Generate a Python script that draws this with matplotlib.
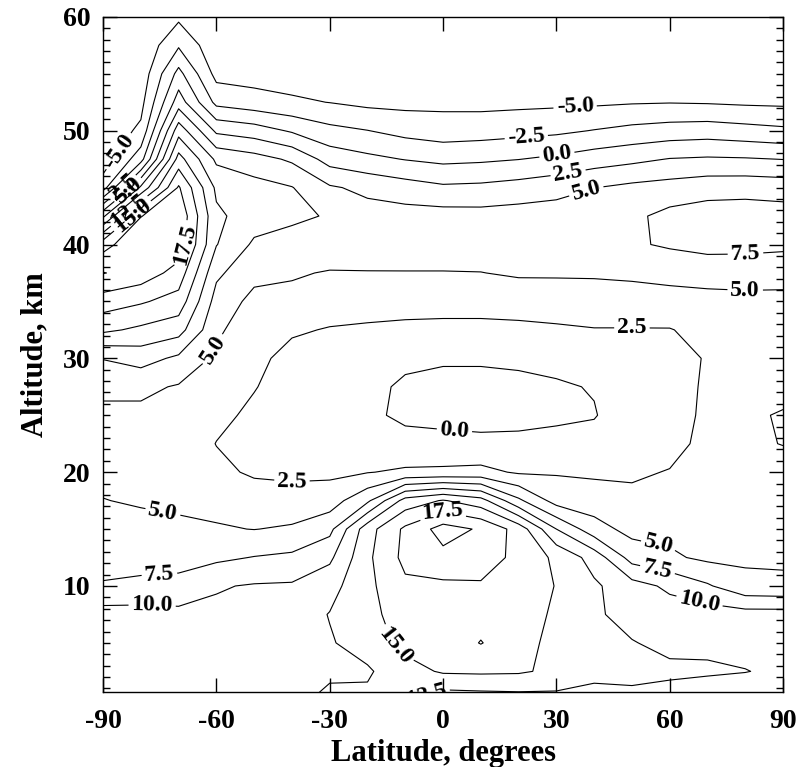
import matplotlib
matplotlib.use("Agg")
import matplotlib.pyplot as plt
from matplotlib.ticker import MultipleLocator
import numpy as np

plt.rcParams['font.family'] = ['Liberation Serif', 'DejaVu Serif']
plt.rcParams['font.weight'] = 'bold'
plt.rcParams['axes.unicode_minus'] = False
plt.rcParams['contour.negative_linestyle'] = 'solid'

# grid: latitude columns, altitude rows (km, bottom to top)
lat = [-90, -80, -70, -60, -50, -40, -30, -20, -10, 0, 10, 20, 30, 40, 50, 60, 70, 80, 90]
alt = [0, 2.5, 5, 7.5, 10, 12.5, 15, 17.5, 20, 22.5, 25, 27.5, 30,
       32.5, 35, 37.5, 40, 42.5, 45, 47.5, 50, 52.5, 55, 57.5, 60]

# one profile per latitude, values from alt[0] up to alt[-1]
col_s90 = [11.5, 11.4, 11.3, 11.0, 7.8, 6.2, 5.6, 5.05, 4.5, 4.4, 4.6, 5.4, 7.6,
           13.0, 16.3, 20.1, 16.5, 7.0, -3.6, -6.5, -6.8, -7.0, -7.1, -7.2, -7.3]
col_s80 = [11.2, 11.1, 10.9, 10.9, 8.2, 6.3, 5.6, 4.8, 4.4, 4.3, 4.5, 5.5, 8.5,
           12.0, 15.3, 19.0, 19.8, 17.4, 8.0, -1.0, -4.5, -5.8, -6.6, -7.0, -7.3]
col_s70 = [11.2, 11.0, 10.8, 10.6, 8.5, 6.3, 5.4, 4.6, 4.0, 3.9, 4.2, 4.8, 7.0,
           11.0, 14.0, 16.5, 19.0, 19.6, 17.8, 13.5, 9.0, 3.8, 0.8, -2.8, -5.5]
col_s60 = [11.0, 10.9, 10.7, 10.5, 9.8, 7.0, 5.2, 4.3, 3.0, 2.45, 3.0, 3.8, 4.5,
           5.5, 6.5, 8.0, 10.1, 10.5, 9.5, 7.0, 2.0, -3.2, -5.8, -6.8, -7.2]
col_s50 = [11.4, 11.2, 11.0, 10.8, 10.2, 7.6, 4.95, 3.6, 2.2, 1.8, 2.1, 2.6, 2.9,
           3.3, 4.3, 5.7, 7.1, 8.7, 8.4, 6.0, 1.2, -4.0, -6.0, -6.8, -7.2]
col_s40 = [11.8, 11.6, 11.5, 11.2, 10.3, 8.0, 5.3, 3.5, 2.0, 1.5, 1.4, 1.6, 2.0,
           2.7, 4.2, 5.3, 6.5, 8.0, 7.6, 4.6, -0.3, -4.6, -6.2, -6.8, -7.2]
col_s30 = [13.2, 12.0, 12.3, 12.6, 11.6, 9.5, 6.8, 3.8, 2.0, 1.1, 0.8, 1.0, 1.5,
           2.4, 3.3, 4.8, 6.8, 7.3, 5.3, 1.5, -1.8, -5.05, -6.0, -6.6, -7.0]
col_s20 = [13.0, 12.2, 13.5, 14.2, 14.4, 14.5, 14.0, 7.0, 2.4, 0.8, 0.3, 0.5, 1.0,
           2.2, 3.4, 4.9, 6.2, 6.0, 4.4, 0.6, -2.45, -5.6, -6.1, -6.6, -7.0]
col_s10 = [12.8, 14.0, 15.8, 16.3, 17.0, 18.2, 18.0, 13.5, 2.9, 0.5, -0.3, -0.3, 0.4,
           2.0, 3.4, 4.9, 6.3, 6.0, 3.6, -0.1, -3.3, -5.7, -6.2, -6.7, -7.0]
col_eq = [11.0, 15.3, 16.0, 16.3, 17.0, 19.3, 21.0, 15.2, 3.0, 0.5, -0.5, -0.5, 0.2,
          1.9, 3.4, 4.9, 6.3, 6.0, 2.9, -0.6, -3.8, -5.6, -6.2, -6.7, -7.0]
col_n10 = [11.2, 15.4, 17.6, 16.6, 17.2, 18.8, 19.7, 13.5, 3.2, 0.4, -0.6, -0.5, 0.2,
           1.9, 3.4, 4.95, 6.3, 5.9, 3.05, -0.4, -3.6, -5.7, -6.2, -6.7, -7.0]
col_n20 = [11.4, 15.3, 16.0, 16.2, 16.5, 16.8, 16.5, 8.0, 2.2, 0.4, -0.5, -0.4, 0.3,
           2.0, 3.5, 5.3, 6.5, 6.1, 3.5, -0.05, -3.3, -5.6, -6.1, -6.6, -7.0]
col_n30 = [11.6, 14.5, 14.2, 14.6, 14.9, 14.5, 10.0, 4.0, 2.3, 0.5, -0.3, -0.2, 0.5,
           2.2, 3.6, 5.3, 6.6, 6.2, 4.1, 0.5, -3.0, -5.5, -6.0, -6.5, -7.0]
col_n40 = [11.8, 13.0, 12.6, 12.8, 12.9, 11.5, 6.0, 3.7, 2.1, 0.6, -0.1, 0.1, 1.0,
           2.4, 3.8, 5.3, 6.8, 6.5, 4.95, 1.3, -2.4, -5.4, -5.9, -6.4, -7.0]
col_n50 = [11.8, 13.2, 12.6, 11.8, 11.0, 6.5, 4.2, 3.0, 2.2, 1.3, 1.0, 1.2, 1.8,
           2.4, 3.8, 5.5, 7.2, 7.0, 5.6, 1.9, -1.8, -5.2, -5.8, -6.3, -7.0]
col_n60 = [11.6, 12.9, 12.0, 11.2, 9.5, 5.4, 4.3, 3.5, 2.6, 1.8, 1.4, 1.6, 2.0,
           2.4, 4.0, 5.8, 7.8, 8.2, 6.0, 2.6, -1.4, -5.1, -5.8, -6.3, -7.0]
col_n70 = [11.5, 12.7, 12.2, 11.3, 7.8, 4.5, 4.4, 3.8, 3.3, 3.1, 3.0, 2.8, 2.6,
           3.2, 4.2, 6.0, 8.3, 8.7, 6.5, 2.8, -1.2, -5.2, -5.8, -6.3, -7.0]
col_n80 = [11.3, 12.55, 12.0, 11.0, 5.7, 4.6, 4.4, 3.9, 3.3, 2.8, 2.7, 3.0, 3.3,
           3.6, 4.3, 6.1, 8.2, 8.8, 6.6, 2.7, -1.6, -5.4, -5.7, -6.3, -7.0]
col_n90 = [11.3, 12.2, 11.8, 11.0, 5.5, 4.6, 4.3, 3.8, 3.2, 2.45, 2.4, 2.9, 3.3,
           3.7, 4.3, 6.0, 8.0, 8.6, 6.4, 2.45, -2.0, -5.5, -5.9, -6.4, -7.0]

levels = [-5.0, -2.5, 0.0, 2.5, 5.0, 7.5, 10.0, 12.5, 15.0, 17.5, 20.0]

field = np.column_stack([col_s90, col_s80, col_s70, col_s60, col_s50, col_s40,
                         col_s30, col_s20, col_s10, col_eq, col_n10, col_n20,
                         col_n30, col_n40, col_n50, col_n60, col_n70, col_n80,
                         col_n90])

# where the labels sit (lat, km), per level
label_spots = {
    -5.0: [(35, 51.8), (-85, 48)],
    -2.5: [(22, 49.6)],
    0.0: [(30, 48.2), (3, 23.6)],
    2.5: [(33, 46.5), (50, 32.6), (-40, 18.8), (-83, 44.4)],
    5.0: [(38, 44.6), (80, 36.1), (-74, 16.8), (-61, 30.8), (57, 13.6), (-81, 43.8)],
    7.5: [(80, 39.5), (-75, 10.6), (57, 11.8)],
    10.0: [(-77, 8.4), (68, 8.8)],
    12.5: [(-5, 1.2), (-82, 42.5)],
    15.0: [(-12, 5.0), (-80, 41.6)],
    17.5: [(0, 16.4), (-67, 40.0)],
}

fig = plt.figure(figsize=(7.99, 7.67), dpi=100)
ax = fig.add_axes([0.129, 0.098, 0.851, 0.88])

# one contour set per level so each label lands on its own level
for lev in levels:
    cs = ax.contour(lat, alt, field, levels=[lev], colors='black', linewidths=0.8)
    spots = label_spots.get(lev)
    if spots:
        txts = ax.clabel(cs, manual=spots, inline=True, fmt='%.1f',
                         fontsize=17, inline_spacing=3)
        for t in txts:
            t.set_fontweight('bold')

ax.set_xlim(-90, 90)
ax.set_ylim(0.7, 60)
ax.set_xticks([-90, -60, -30, 0, 30, 60, 90])
ax.set_yticks([10, 20, 30, 40, 50, 60])
ax.yaxis.set_minor_locator(MultipleLocator(1))

ax.tick_params(axis='both', which='major', direction='in', top=True, right=True,
               length=10, width=1, labelsize=20)
ax.tick_params(axis='x', pad=12)
ax.tick_params(axis='y', pad=9)
ax.tick_params(axis='y', which='minor', direction='in', right=True, length=5, width=1)
for lbl in ax.get_xticklabels() + ax.get_yticklabels():
    lbl.set_fontweight('bold')
for sp in ax.spines.values():
    sp.set_linewidth(1)

ax.set_xlabel('Latitude, degrees', fontsize=22, fontweight='bold', labelpad=4)
ax.set_ylabel('Altitude, km', fontsize=22, fontweight='bold', labelpad=10)

fig.savefig('out.png', dpi=100, facecolor='white')
